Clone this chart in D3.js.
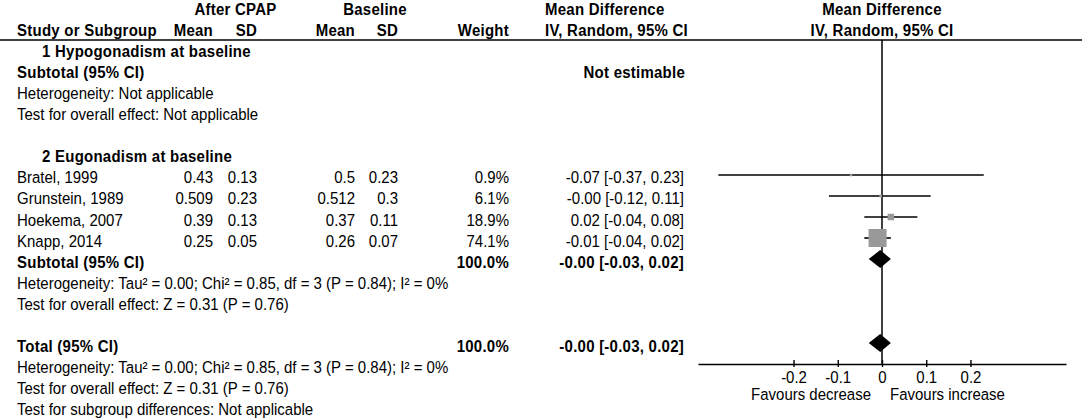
<!DOCTYPE html>
<html>
<head>
<meta charset="utf-8">
<script src="https://cdn.jsdelivr.net/npm/d3@7"></script>
<style>
  body { margin: 0; background: #fff; }
  svg { display: block; font-family: "Liberation Sans", Arial, sans-serif; font-size: 15px; }
</style>
</head>
<body>
<svg id="chart" width="1084" height="419"></svg>
<script>
// Study data (subgroup 2: Eugonadism at baseline)
const studies   = ['Bratel, 1999', 'Grunstein, 1989', 'Hoekema, 2007', 'Knapp, 2014'];
const afterMean = [0.43, 0.509, 0.39, 0.25];
const afterSD   = [0.13, 0.23, 0.13, 0.05];
const baseMean  = [0.5, 0.512, 0.37, 0.26];
const baseSD    = [0.23, 0.3, 0.11, 0.07];
const weights   = [0.9, 6.1, 18.9, 74.1];
const md        = [-0.07, -0.003, 0.02, -0.01];
const ciLow     = [-0.37, -0.12, -0.04, -0.04];
const ciHigh    = [0.23, 0.11, 0.08, 0.02];

const subgroups = ['1 Hypogonadism at baseline', '2 Eugonadism at baseline'];
const pooledMD = -0.004, pooledLow = -0.03, pooledHigh = 0.02, pooledWeight = 100.0;

const hetNA     = 'Heterogeneity: Not applicable';
const effectNA  = 'Test for overall effect: Not applicable';
const hetText   = 'Heterogeneity: Tau² = 0.00; Chi² = 0.85, df = 3 (P = 0.84); I² = 0%';
const effectTxt = 'Test for overall effect: Z = 0.31 (P = 0.76)';
const subDiff   = 'Test for subgroup differences: Not applicable';

const tickValues = [-0.2, -0.1, 0, 0.1, 0.2];
const favours    = ['Favours decrease', 'Favours increase'];

const fmtCI = (m, lo, hi) => `${m.toFixed(2)} [${lo.toFixed(2)}, ${hi.toFixed(2)}]`;

const svg = d3.select('#chart');

// row index -> text baseline
const rowY = d3.scaleLinear().domain([0, 19]).range([15, 415]);
const MARK_OFF = -8.5;          // marks sit a bit above the text baseline
const markY = row => Math.round(rowY(row) + MARK_OFF);
const x = d3.scaleLinear().domain([-0.416, 0.416]).range([698, 1066]);
const sq = d3.scalePow().exponent(0.75).domain([0, 74.1]).range([0, 18]);
const AXIS_Y = 364;
const STRETCH = 1.05;           // glyphs in the source are a touch taller than wide

// column anchors
const C = { label: 17, indent: 42, aMean: 213, aSD: 257, bMean: 355, bSD: 398, weight: 509, ci: 684, ciHead: 545 };

function label(xp, yp, s, anchor = 'start', bold = false) {
  svg.append('text')
    .attr('transform', `translate(${xp},${yp}) scale(1,${STRETCH})`)
    .attr('text-anchor', anchor)
    .attr('font-weight', bold ? 'bold' : 'normal')
    .attr('letter-spacing', bold ? '0.25px' : null)
    .attr('fill', '#000')
    .text(s);
}
const txt = (xp, row, s, anchor, bold) => label(xp, rowY(row), s, anchor, bold);

// Header
txt(235.5, 0, 'After CPAP', 'middle', true);
txt(375, 0, 'Baseline', 'middle', true);
txt(C.ciHead, 0, 'Mean Difference', 'start', true);
txt(x(0), 0, 'Mean Difference', 'middle', true);
txt(C.label, 1, 'Study or Subgroup', 'start', true);
txt(C.aMean, 1, 'Mean', 'end', true);
txt(C.aSD, 1, 'SD', 'end', true);
txt(C.bMean, 1, 'Mean', 'end', true);
txt(C.bSD, 1, 'SD', 'end', true);
txt(C.weight, 1, 'Weight', 'end', true);
txt(C.ciHead, 1, 'IV, Random, 95% CI', 'start', true);
txt(x(0), 1, 'IV, Random, 95% CI', 'middle', true);

svg.append('line')
  .attr('x1', 0).attr('x2', 1082).attr('y1', 40).attr('y2', 40)
  .attr('stroke', '#000').attr('stroke-width', 1.5);

// Subgroup 1
txt(C.indent, 2, subgroups[0], 'start', true);
txt(C.label, 3, 'Subtotal (95% CI)', 'start', true);
txt(C.ci + 1, 3, 'Not estimable', 'end', true);
txt(C.label, 4, hetNA);
txt(C.label, 5, effectNA);

// Subgroup 2
txt(C.indent, 7, subgroups[1], 'start', true);
studies.forEach((s, i) => {
  const r = 8 + i;
  txt(C.label, r, s);
  txt(C.aMean, r, String(afterMean[i]), 'end');
  txt(C.aSD, r, String(afterSD[i]), 'end');
  txt(C.bMean, r, String(baseMean[i]), 'end');
  txt(C.bSD, r, String(baseSD[i]), 'end');
  txt(C.weight, r, weights[i].toFixed(1) + '%', 'end');
  txt(C.ci, r, fmtCI(md[i], ciLow[i], ciHigh[i]), 'end');
});
txt(C.label, 12, 'Subtotal (95% CI)', 'start', true);
txt(C.weight, 12, pooledWeight.toFixed(1) + '%', 'end', true);
txt(C.ci, 12, fmtCI(pooledMD, pooledLow, pooledHigh), 'end', true);
txt(C.label, 13, hetText);
txt(C.label, 14, effectTxt);

// Total
txt(C.label, 16, 'Total (95% CI)', 'start', true);
txt(C.weight, 16, pooledWeight.toFixed(1) + '%', 'end', true);
txt(C.ci, 16, fmtCI(pooledMD, pooledLow, pooledHigh), 'end', true);
txt(C.label, 17, hetText);
txt(C.label, 18, effectTxt);
txt(C.label, 19, subDiff);

// Plot: zero line
svg.append('line')
  .attr('x1', x(0)).attr('x2', x(0)).attr('y1', 40).attr('y2', AXIS_Y)
  .attr('stroke', '#000').attr('stroke-width', 1.5);

// CI whiskers
const plotG = svg.append('g');
plotG.selectAll('line.ci')
  .data(studies)
  .join('line')
  .attr('class', 'ci')
  .attr('x1', (d, i) => x(ciLow[i])).attr('x2', (d, i) => x(ciHigh[i]))
  .attr('y1', (d, i) => markY(8 + i)).attr('y2', (d, i) => markY(8 + i))
  .attr('stroke', '#000').attr('stroke-width', 1.6);

// Weight squares
plotG.selectAll('rect.w')
  .data(studies)
  .join('rect')
  .attr('class', 'w')
  .each(function (d, i) {
    const s = Math.max(2.5, sq(weights[i]));
    d3.select(this)
      .attr('x', x(md[i]) - s / 2).attr('y', markY(8 + i) - s / 2)
      .attr('width', s).attr('height', s);
  })
  .attr('fill', '#999');

// Diamonds (subtotal + total)
const diamond = row => {
  const yc = markY(row);
  return `M${x(pooledLow)},${yc}L${x(pooledMD)},${yc - 9}L${x(pooledHigh)},${yc}L${x(pooledMD)},${yc + 9}Z`;
};
plotG.selectAll('path.dia')
  .data([12, 16])
  .join('path')
  .attr('class', 'dia')
  .attr('d', diamond)
  .attr('fill', '#000');

// Axis
const axisG = svg.append('g')
  .attr('transform', `translate(0,${AXIS_Y})`)
  .call(d3.axisBottom(x).tickValues(tickValues).tickFormat(d => String(d)).tickSizeOuter(0));
axisG.attr('font-size', null).attr('font-family', null);
axisG.select('.domain').attr('stroke', '#000').attr('stroke-width', 1.5);
axisG.selectAll('.tick line').attr('y1', -4).attr('y2', 3).attr('stroke', '#000').attr('stroke-width', 1.4);
axisG.selectAll('.tick text')
  .attr('y', null).attr('dy', null)
  .attr('transform', `translate(0,19) scale(1,${STRETCH})`)
  .attr('fill', '#000').attr('font-size', 15);

label(x(0) - 11, 400, favours[0], 'end');
label(x(0) + 8, 400, favours[1], 'start');
</script>
</body>
</html>
